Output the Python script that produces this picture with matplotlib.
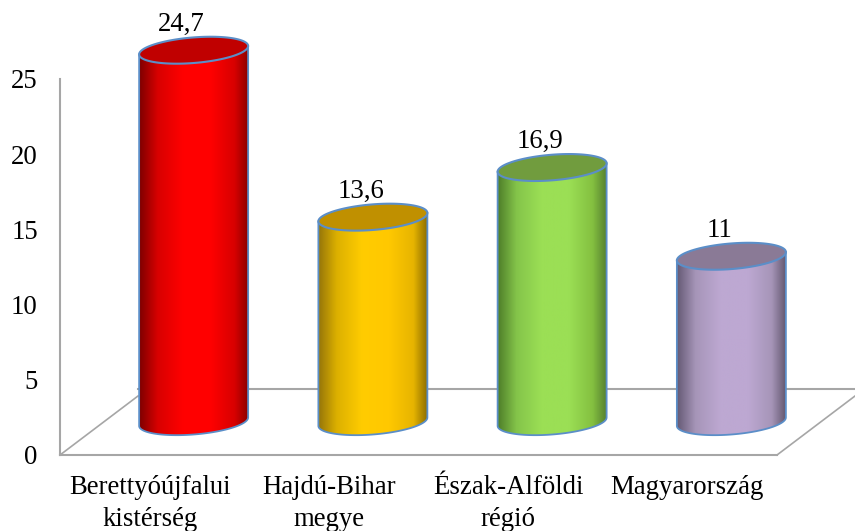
"""Cylinder bar chart, drawn on a flat axes with a fake 3D floor."""
import numpy as np
import matplotlib
matplotlib.use("Agg")
import matplotlib.pyplot as plt
from matplotlib.path import Path
from matplotlib.patches import PathPatch
from matplotlib.colors import LinearSegmentedColormap

categories = ["Berettyóújfalui\nkistérség", "Hajdú-Bihar\nmegye", "Észak-Alföldi\nrégió", "Magyarország"]
values = [24.7, 13.6, 16.9, 11]
value_labels = ["24,7", "13,6", "16,9", "11"]
y_ticks = [0, 5, 10, 15, 20, 25]

# left edge, centre, right edge of the shading + lid colour
shades = [
    (["#7d0000", "#d80000", "#ff0000", "#ff0000", "#d80000", "#8a0000"], "#c00000"),
    (["#94740a", "#dcb000", "#ffcc00", "#ffc800", "#e6b400", "#8a6c00"], "#c09000"),
    (["#4f7f2a", "#84c44a", "#9bdf55", "#9bdf55", "#84c040", "#557f30"], "#719c3e"),
    (["#655a75", "#a695b8", "#bda8d2", "#bda8d2", "#a695b8", "#645870"], "#8a7a96"),
]
stop_pos = [0, 0.17, 0.4, 0.65, 0.87, 1]

W, H = 855, 531
GREY = "#a6a6a6"
BLUE = "#5b8ec8"
FONT = 19.3

# axes box = front floor edge and the y axis line, in pixels
L, R, B, T = 60, 777, 455, 79
PX_X = (R - L) / 4
PX_Y = (B - T) / 25

SHIFT_X = 44 / PX_X     # bars stand in the middle of the floor
SHIFT_Y = 33.3 / PX_Y
A = 54.5 / PX_X         # ellipse half width
C = 12.8 / PX_Y         # ellipse half height
TILT = 4.2 / PX_Y       # right side sits higher than left

plt.rcParams["font.family"] = ["Liberation Serif", "DejaVu Serif"]

fig = plt.figure(figsize=(W / 100, H / 100), dpi=100, facecolor="white")
ax = fig.add_axes([L / W, 1 - B / H, (R - L) / W, (B - T) / H])
ax.patch.set_visible(False)


def ellipse(cx, cy, t):
    return cx + A * np.cos(t), cy + C * np.sin(t) + TILT * np.cos(t)


# floor
ax.plot([-0.5 + 78 / PX_X, 4.2], [66 / PX_Y] * 2, color=GREY, lw=1.5, zorder=1, clip_on=False)
ax.plot([-0.5, -0.5 + 78 / PX_X], [0, 59 / PX_Y], color=GREY, lw=1.2, zorder=1, clip_on=False)
ax.plot([3.5, 3.5 + 78 / PX_X], [0, 59 / PX_Y], color=GREY, lw=1.2, zorder=1, clip_on=False)

for i, (v, label, (stops, lid)) in enumerate(zip(values, value_labels, shades)):
    cx = i + SHIFT_X
    base = SHIFT_Y
    top = SHIFT_Y + v

    # body outline: top edge, down the right side, round the bottom
    t_up = np.linspace(np.pi, 0, 60)
    t_down = np.linspace(0, -np.pi, 60)
    xt, yt = ellipse(cx, top, t_up)
    xb, yb = ellipse(cx, base, t_down)
    xs = np.r_[xt, xb, xt[0]]
    ys = np.r_[yt, yb, yt[0]]

    cmap = LinearSegmentedColormap.from_list("c", list(zip(stop_pos, stops)))
    im = ax.imshow(np.linspace(0, 1, 256)[None, :], cmap=cmap, aspect="auto", zorder=2,
                   extent=[cx - A, cx + A, base - 2, top + 2])
    body = PathPatch(Path(np.c_[xs, ys]), fc="none", ec="none", transform=ax.transData)
    body.set_clip_on(False)
    ax.add_patch(body)
    im.set_clip_path(body)
    im.set_clip_box(fig.bbox)

    # side lines and bottom arc
    ax.plot(np.r_[xt[-1], xb, xt[0]], np.r_[yt[-1], yb, yt[0]], color=BLUE, lw=1.3, zorder=3, clip_on=False)

    # lid
    t = np.linspace(0, 2 * np.pi, 120)
    xl, yl = ellipse(cx, top, t)
    ax.fill(xl, yl, fc=lid, ec=BLUE, lw=1.5, zorder=4, clip_on=False)

    ax.annotate(label, (cx, top), xytext=(-8.6, 9.7), textcoords="offset points",
                ha="center", va="bottom", fontsize=FONT, color="black", annotation_clip=False)

ax.set_xlim(-0.5, 3.5)
ax.set_ylim(0, 25)
ax.set_xticks(range(len(categories)), categories, fontsize=FONT, linespacing=1.38)
ax.set_yticks(y_ticks, [str(y) for y in y_ticks], fontsize=FONT)
ax.tick_params(axis="x", length=0, pad=14.5)
ax.tick_params(axis="y", length=0, pad=16)

for side in ["top", "right"]:
    ax.spines[side].set_visible(False)
for side in ["left", "bottom"]:
    ax.spines[side].set_color(GREY)
    ax.spines[side].set_linewidth(1.5)

fig.savefig("out.png", dpi=100, facecolor="white")
